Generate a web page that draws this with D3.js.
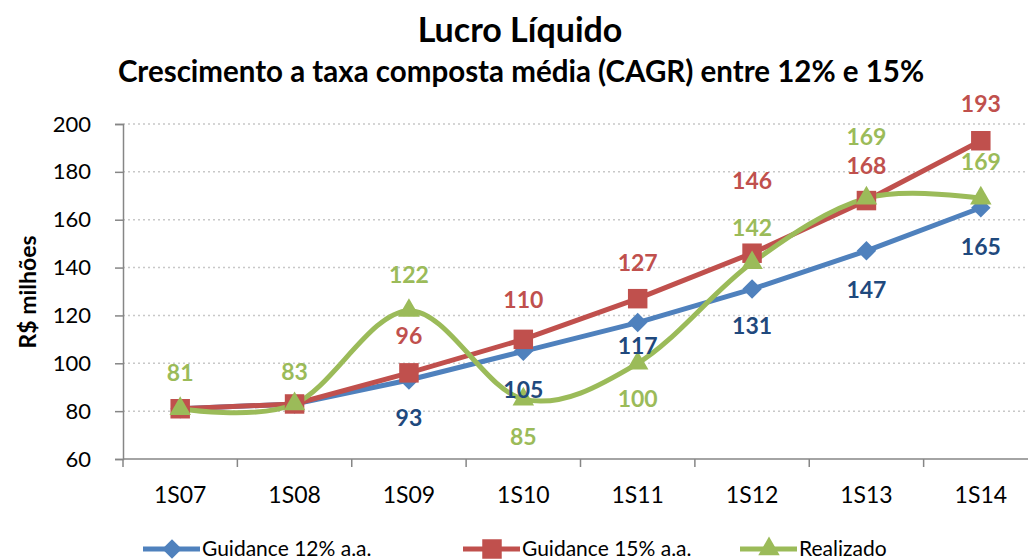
<!DOCTYPE html>
<html>
<head>
<meta charset="utf-8">
<script src="https://cdn.jsdelivr.net/npm/d3@7"></script>
<style>
  body { margin: 0; background: #fff; }
  svg { display: block; font-family: Lato, "Open Sans", sans-serif; }
</style>
</head>
<body>
<div id="chart"></div>
<script>
// Data
const periods = ["1S07", "1S08", "1S09", "1S10", "1S11", "1S12", "1S13", "1S14"];
const guidance12 = [81, 83, 93, 105, 117, 131, 147, 165];
const guidance15 = [81, 83, 96, 110, 127, 146, 168, 193];
const realizado = [81, 83, 122, 85, 100, 142, 169, 169];
const yTicks = [60, 80, 100, 120, 140, 160, 180, 200];

const width = 1028, height = 559;
const plot = { left: 123, right: 1038, top: 124, bottom: 459 };

const svg = d3.select("#chart").append("svg")
    .attr("width", width)
    .attr("height", height);

const x = d3.scaleBand().domain(periods).range([plot.left, plot.right]);
const y = d3.scaleLinear().domain([60, 200]).range([plot.bottom, plot.top]);
const cx = d => x(d) + x.bandwidth() / 2;

// diamond shaped like a rotated square (Excel style)
const diamond = {
  draw(ctx, size) {
    const r = Math.sqrt(size / 2);
    ctx.moveTo(0, -r);
    ctx.lineTo(r, 0);
    ctx.lineTo(0, r);
    ctx.lineTo(-r, 0);
    ctx.closePath();
  }
};

// Titles
svg.append("text")
    .attr("x", 520).attr("y", 42)
    .attr("text-anchor", "middle")
    .style("font-size", "34px").style("font-weight", "bold")
    .text("Lucro Líquido");
svg.append("text")
    .attr("x", 521).attr("y", 82)
    .attr("text-anchor", "middle")
    .style("font-size", "29.5px").style("font-weight", "bold")
    .text("Crescimento a taxa composta média (CAGR) entre 12% e 15%");

// Gridlines
svg.append("g")
    .selectAll("line")
    .data(yTicks.filter(d => d > 60))
    .join("line")
    .attr("x1", plot.left).attr("x2", width)
    .attr("y1", d => y(d)).attr("y2", d => y(d))
    .attr("stroke", "#c8c8c8")
    .attr("stroke-width", 1.5)
    .attr("stroke-dasharray", "2,3");

// Y axis
const yAxis = svg.append("g")
    .attr("transform", `translate(${plot.left},0)`)
    .call(d3.axisLeft(y).tickValues(yTicks).tickSize(8).tickPadding(24));
yAxis.select(".domain").attr("stroke", "#868686").attr("stroke-width", 1.5);
yAxis.selectAll(".tick line").attr("stroke", "#868686").attr("stroke-width", 1.5);
yAxis.selectAll("text").style("font-size", "22px").attr("fill", "#000")
    .style("font-family", "Lato, sans-serif");

// X axis (ticks on category boundaries)
const xAxis = svg.append("g")
    .attr("transform", `translate(0,${plot.bottom})`);
xAxis.append("line")
    .attr("x1", plot.left).attr("x2", width)
    .attr("stroke", "#868686").attr("stroke-width", 1.5);
xAxis.selectAll(".bnd")
    .data(periods)
    .join("line")
    .attr("class", "bnd")
    .attr("x1", d => x(d)).attr("x2", d => x(d))
    .attr("y1", 0).attr("y2", 8)
    .attr("stroke", "#868686").attr("stroke-width", 1.5);
xAxis.selectAll("text")
    .data(periods)
    .join("text")
    .attr("x", d => cx(d))
    .attr("y", 44)
    .attr("text-anchor", "middle")
    .style("font-size", "23px")
    .text(d => d);

// Y axis title
svg.append("text")
    .attr("transform", "translate(36,292) rotate(-90)")
    .attr("text-anchor", "middle")
    .style("font-size", "23px").style("font-weight", "bold")
    .text("R$ milhões");

// Series
const series = [
  { name: "Guidance 12% a.a.", values: guidance12, color: "#4f81bd", labelColor: "#1f497d",
    curve: d3.curveLinear, marker: diamond, size: 190,
    dy: [null, null, 38, 39, 23, 37, 39, 39] },
  { name: "Guidance 15% a.a.", values: guidance15, color: "#c0504d", labelColor: "#c0504d",
    curve: d3.curveLinear, marker: d3.symbolSquare, size: 380,
    dy: [null, null, -37, -39, -36, -72, -35, -37] },
  { name: "Realizado", values: realizado, color: "#9bbb59", labelColor: "#9bbb59",
    curve: d3.curveCatmullRom.alpha(0), marker: d3.symbolTriangle, size: 200,
    dy: [-36, -32, -36, 38, 36, -35, -61, -36] }
];

const line = d3.line();

series.forEach(s => {
  const pts = s.values.map((v, i) => [cx(periods[i]), y(v)]);
  svg.append("path")
      .attr("d", line.curve(s.curve)(pts))
      .attr("fill", "none")
      .attr("stroke", s.color)
      .attr("stroke-width", 5)
      .attr("stroke-linejoin", "round");
});

series.forEach(s => {
  svg.append("g")
    .selectAll("path")
    .data(s.values)
    .join("path")
    .attr("transform", (v, i) => `translate(${cx(periods[i])},${y(v)})`)
    .attr("d", d3.symbol().type(s.marker).size(s.size))
    .attr("fill", s.color);
});

series.forEach(s => {
  svg.append("g")
    .selectAll("text")
    .data(s.values.map((v, i) => ({ v, i })).filter(d => s.dy[d.i] !== null))
    .join("text")
    .attr("x", d => cx(periods[d.i]))
    .attr("y", d => y(d.v) + s.dy[d.i])
    .attr("dy", "0.35em")
    .attr("text-anchor", "middle")
    .style("font-size", "23px").style("font-weight", "bold")
    .attr("fill", s.labelColor)
    .text(d => d.v);
});

// Legend
const legendX = [143, 463, 740];
const legend = svg.append("g")
  .selectAll("g")
  .data(series)
  .join("g")
  .attr("transform", (d, i) => `translate(${legendX[i]},549)`);
legend.append("line")
    .attr("x1", 0).attr("x2", 57)
    .attr("stroke", d => d.color).attr("stroke-width", 5);
legend.append("path")
    .attr("transform", "translate(29,0)")
    .attr("d", d => d3.symbol().type(d.marker).size(d.size)())
    .attr("fill", d => d.color);
legend.append("text")
    .attr("x", 59).attr("y", 0)
    .attr("dy", "0.35em")
    .style("font-size", "21px")
    .text(d => d.name);
</script>
</body>
</html>
